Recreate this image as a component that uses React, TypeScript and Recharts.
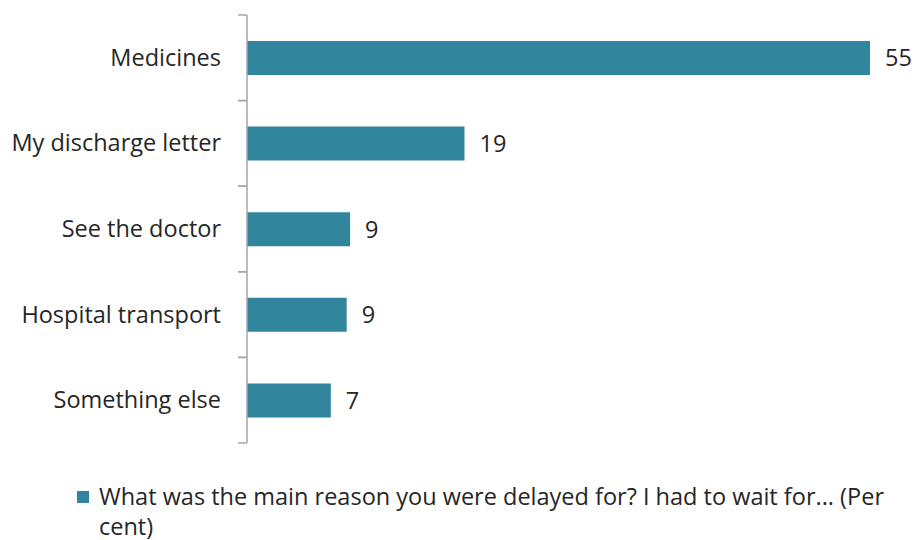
import { BarChart, Bar, XAxis, YAxis, LabelList } from "recharts";

const categories = ["Medicines", "My discharge letter", "See the doctor", "Hospital transport", "Something else"];
const percents = [55, 19.2, 9.1, 8.8, 7.4];
const seriesName = "What was the main reason you were delayed for? I had to wait for... (Per cent)";

const data = categories.map((name, i) => ({ name, value: percents[i] }));

const FONT = "'Open Sans', sans-serif";
const TEAL = "#31859c";
const AXIS = "#a6a6a6";
const BAND = 85.6;
const FS = 23.5;

const CategoryTick = (props: any) => {
    const { x, y, payload } = props;
    const ax = x + 8;
    return (
        <g>
            <line x1={ax - 9} x2={ax} y1={y - BAND / 2} y2={y - BAND / 2} stroke={AXIS} strokeWidth={1.5} />
            <line x1={ax - 9} x2={ax} y1={y + BAND / 2} y2={y + BAND / 2} stroke={AXIS} strokeWidth={1.5} />
            <text x={ax - 26} y={y} dy={8} textAnchor="end" fontSize={FS} fill="#262626" fontFamily={FONT}>
                {payload.value}
            </text>
        </g>
    );
};

const App = () => {
    return (
        <div style={{ position: "absolute", left: 0, top: 0, width: 915, height: 540, background: "#fff", overflow: "hidden" }}>
            <BarChart
                width={915}
                height={460}
                data={data}
                layout="vertical"
                margin={{ top: 15, right: 45, bottom: 17, left: 0 }}
            >
                <XAxis type="number" domain={[0, 55]} hide />
                <YAxis
                    type="category"
                    dataKey="name"
                    width={247}
                    axisLine={{ stroke: AXIS, strokeWidth: 1.5 }}
                    tickLine={false}
                    tick={<CategoryTick />}
                    interval={0}
                />
                <Bar dataKey="value" fill={TEAL} barSize={34} isAnimationActive={false}>
                    <LabelList
                        dataKey="value"
                        position="right"
                        offset={15}
                        formatter={(v: any) => Math.round(Number(v))}
                        style={{ fontSize: FS, fill: "#262626", fontFamily: FONT }}
                    />
                </Bar>
            </BarChart>
            <div
                style={{
                    position: "absolute",
                    left: 77,
                    top: 481,
                    width: 832,
                    fontFamily: FONT,
                    fontSize: FS,
                    lineHeight: "30px",
                    color: "#262626",
                    display: "flex",
                    alignItems: "flex-start",
                }}
            >
                <span style={{ display: "inline-block", width: 12, height: 12, background: TEAL, marginTop: 10, marginRight: 10, flexShrink: 0 }} />
                <span>{seriesName}</span>
            </div>
        </div>
    );
};

export default App;
